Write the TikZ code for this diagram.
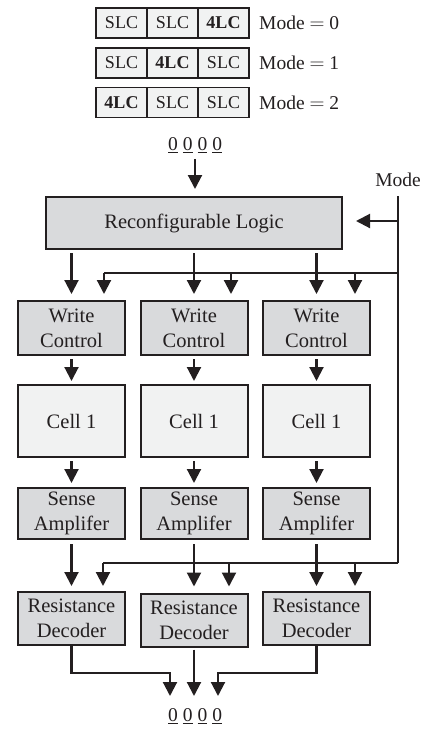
\documentclass[tikz,border=0pt]{standalone}
\usepackage{fontspec}
\setmainfont{Liberation Serif}
\usetikzlibrary{arrows.meta,calc}
\definecolor{ink}{HTML}{231F20}
\definecolor{boxgray}{HTML}{D9DADC}
\definecolor{cellgray}{HTML}{F1F2F2}
\begin{document}
\begin{tikzpicture}[x=1pt,y=-1pt,
  blk/.style={draw=ink, line width=2pt, fill=boxgray, minimum width=107pt, inner sep=0pt,
    align=center, text=ink, font=\fontsize{20.5}{25}\selectfont},
  cellbox/.style={blk, fill=cellgray},
  tcell/.style={draw=ink, line width=1.3pt, fill=cellgray, minimum width=51pt, minimum height=30pt,
    inner sep=0pt, text=ink, font=\fontsize{18}{20}\selectfont},
  lbl/.style={text=ink, inner sep=0pt, font=\fontsize{19.5}{22}\selectfont},
  ln/.style={draw=ink, line width=2.1pt},
  arr/.style={ln, -{Triangle[width=14pt,length=14pt]}}]
\useasboundingbox (0,0) rectangle (427,729);

% mode table
\node[tcell] (a1) at (121.5,23) {SLC};
\node[tcell] (a2) at (172.5,23) {SLC};
\node[tcell] (a3) at (223.5,23) {\textbf{4LC}};
\node[tcell] (b1) at (121.5,63) {SLC};
\node[tcell] (b2) at (172.5,63) {\textbf{4LC}};
\node[tcell] (b3) at (223.5,63) {SLC};
\node[tcell] (c1) at (121.5,102.5) {\textbf{4LC}};
\node[tcell] (c2) at (172.5,102.5) {SLC};
\node[tcell] (c3) at (223.5,102.5) {SLC};
\node[lbl, anchor=west] (m0) at (259,23) {Mode $=$ 0};
\node[lbl, anchor=west] (m1) at (259,63) {Mode $=$ 1};
\node[lbl, anchor=west] (m2) at (259,102.5) {Mode $=$ 2};

% inputs / outputs
\node[lbl] (top0) at (195,145) {\underline{0}\hspace{5pt}\underline{0}\hspace{5pt}\underline{0}\hspace{5pt}\underline{0}};
\node[lbl] (bot0) at (195,716) {\underline{0}\hspace{5pt}\underline{0}\hspace{5pt}\underline{0}\hspace{5pt}\underline{0}};
\node[lbl] (mode) at (398,180) {Mode};

% main blocks
\node[blk, minimum width=296pt, minimum height=52pt] (rl) at (194,223) {Reconfigurable Logic};

\node[blk, minimum height=54pt] (wc1) at (71.5,328) {Write\\Control};
\node[blk, minimum height=54pt] (wc2) at (194,328) {Write\\Control};
\node[blk, minimum height=54pt] (wc3) at (316.5,328) {Write\\Control};

\node[cellbox, minimum height=72pt] (ce1) at (71.5,421) {Cell 1};
\node[cellbox, minimum height=72pt] (ce2) at (194,421) {Cell 1};
\node[cellbox, minimum height=72pt] (ce3) at (316.5,421) {Cell 1};

\node[blk, minimum height=51pt] (sa1) at (71.5,513.5) {Sense\\Amplifer};
\node[blk, minimum height=51pt] (sa2) at (194,513.5) {Sense\\Amplifer};
\node[blk, minimum height=51pt] (sa3) at (316.5,513.5) {Sense\\Amplifer};

\node[blk, minimum height=53pt] (rd1) at (71.5,618.5) {Resistance\\Decoder};
\node[blk, minimum height=53pt] (rd2) at (194,620) {Resistance\\Decoder};
\node[blk, minimum height=53pt] (rd3) at (316.5,618.5) {Resistance\\Decoder};

% mode bus coordinates
\coordinate (mt) at (398,196);
\coordinate (mr) at (398,221);
\coordinate (mu) at (398,273);
\coordinate (mb) at (398,563);
\coordinate (u1) at (104,273);
\coordinate (u2) at (231,273);
\coordinate (u3) at (355,273);
\coordinate (d1) at (103,563);
\coordinate (d2) at (229,563);
\coordinate (d3) at (355,563);
\coordinate (o1) at (170,673);
\coordinate (o3) at (218,673);
\coordinate (t1) at (170,696);
\coordinate (t2) at (194,696);
\coordinate (t3) at (218,696);

% input
\draw[arr, shorten <=6pt, shorten >=7pt] (top0) -- (rl.north -| top0);

% mode lines
\draw[ln] (mt) -- (mb);
\draw[arr, shorten >=13pt] (mr) -- (rl.east |- mr);
\draw[ln] (mu) -- (u1);
\draw[ln] (mb) -- (d1);
\draw[arr, shorten >=6pt] (u1) -- (u1 |- wc1.north);
\draw[arr, shorten >=6pt] (u2) -- (u2 |- wc2.north);
\draw[arr, shorten >=6pt] (u3) -- (u3 |- wc3.north);
\draw[arr, shorten >=5pt] (d1) -- (d1 |- rd1.north);
\draw[arr, shorten >=6pt] (d2) -- (d2 |- rd2.north);
\draw[arr, shorten >=5pt] (d3) -- (d3 |- rd3.north);

% logic to write control
\draw[arr, shorten <=3pt, shorten >=6pt] (rl.south -| wc1) -- (wc1.north);
\draw[arr, shorten <=3pt, shorten >=6pt] (rl.south -| wc2) -- (wc2.north);
\draw[arr, shorten <=3pt, shorten >=6pt] (rl.south -| wc3) -- (wc3.north);

% column flows
\foreach \i in {1,2,3}{
  \draw[arr, shorten <=3pt, shorten >=3pt] (wc\i.south) -- (ce\i.north);
  \draw[arr, shorten <=3pt, shorten >=4pt] (ce\i.south) -- (sa\i.north);
}
\draw[arr, shorten <=4pt, shorten >=5pt] (sa1.south) -- (rd1.north);
\draw[arr, shorten <=4pt, shorten >=6pt] (sa2.south) -- (rd2.north);
\draw[arr, shorten <=4pt, shorten >=5pt] (sa3.south) -- (rd3.north);

% outputs
\draw[arr] (rd1.south) |- (o1) -- (t1);
\draw[arr, shorten <=2pt] (rd2.south) -- (t2);
\draw[arr] (rd3.south) |- (o3) -- (t3);
\end{tikzpicture}
\end{document}
